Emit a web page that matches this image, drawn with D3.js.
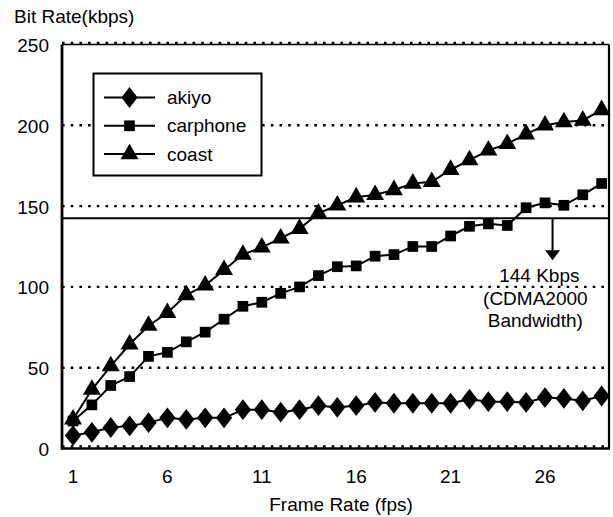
<!DOCTYPE html>
<html>
<head>
<meta charset="utf-8">
<script src="https://cdn.jsdelivr.net/npm/d3@7"></script>
<style>
  body { margin: 0; background: #fff; }
  text { font-family: "Liberation Sans", Arial, sans-serif; fill: #000; }
</style>
</head>
<body>
<div id="chart"></div>
<script>
// frame rates 1..29
var frameRates = d3.range(1, 30);
var xTicks = [1, 6, 11, 16, 21, 26];
var yTicks = [0, 50, 100, 150, 200, 250];

var akiyo = [8, 10, 13, 14, 16, 19, 18, 19, 19, 24, 24, 22.5, 24, 26.5, 25.5, 26.5,
             28.5, 28, 28, 28, 28, 30.5, 29, 29, 28.5, 31.5, 31, 29.5, 32.5];
var carphone = [17, 27, 39, 44.5, 57, 59.5, 66, 72, 80, 88, 90.5, 96, 100, 107, 112.5, 113,
                119, 120, 125, 125, 131.5, 137.5, 139, 138, 149, 152, 150.5, 157, 164];
var coast = [18, 36.5, 51, 64.5, 76, 84, 95, 101, 110.5, 120, 124.5, 130, 136, 145.5, 150.5,
             155.5, 157, 160, 164, 165, 172.5, 178.5, 184.5, 188.5, 194.5, 200, 202, 203, 209.5];

var seriesNames = ['akiyo', 'carphone', 'coast'];
var seriesSymbols = [d3.symbolDiamond, d3.symbolSquare, d3.symbolTriangle];
var seriesData = [akiyo, carphone, coast];

var bandwidthLine = 142.5;   // where the solid line sits in the picture
var bandwidthLabel = ['144 Kbps', '(CDMA2000', 'Bandwidth)'];

var width = 613, height = 517;
var margin = {top: 44.5, right: 4, bottom: 68.5, left: 62};

var x = d3.scaleLinear()
    .domain([1, 26])
    .range([73, 545]);

var y = d3.scaleLinear()
    .domain([0, 250])
    .range([height - margin.bottom, margin.top]);

var svg = d3.select('#chart').append('svg')
    .attr('width', width)
    .attr('height', height);

var plotRight = width - margin.right;

// dotted grid
svg.append('g').selectAll('line')
    .data(yTicks).enter().append('line')
    .attr('x1', margin.left).attr('x2', plotRight)
    .attr('y1', function(d) { return y(d) + (d === 0 ? -2 : (d === 250 ? -1.5 : 0)); })
    .attr('y2', function(d) { return y(d) + (d === 0 ? -2 : (d === 250 ? -1.5 : 0)); })
    .attr('stroke', '#000')
    .attr('stroke-width', 2.4)
    .attr('stroke-dasharray', '2.6,6.1');

// frame
svg.append('line')
    .attr('x1', margin.left).attr('x2', plotRight)
    .attr('y1', y(250)).attr('y2', y(250))
    .attr('stroke', '#000').attr('stroke-width', 1.5);
svg.append('line')
    .attr('x1', plotRight).attr('x2', plotRight)
    .attr('y1', y(250)).attr('y2', y(0))
    .attr('stroke', '#000').attr('stroke-width', 2.2);
svg.append('line')
    .attr('x1', margin.left).attr('x2', margin.left)
    .attr('y1', y(250)).attr('y2', y(0) + 1)
    .attr('stroke', '#000').attr('stroke-width', 2.8);
svg.append('line')
    .attr('x1', margin.left - 1).attr('x2', plotRight + 1)
    .attr('y1', y(0)).attr('y2', y(0))
    .attr('stroke', '#000').attr('stroke-width', 2.5);

// y tick labels
svg.append('g').selectAll('text')
    .data(yTicks).enter().append('text')
    .attr('x', 49)
    .attr('y', function(d) { return y(d) + 7.5; })
    .attr('text-anchor', 'end')
    .attr('font-size', 19)
    .text(function(d) { return d; });

// x tick labels
svg.append('g').selectAll('text')
    .data(xTicks).enter().append('text')
    .attr('x', function(d) { return x(d); })
    .attr('y', 483)
    .attr('text-anchor', 'middle')
    .attr('font-size', 19)
    .text(function(d) { return d; });

svg.append('text')
    .attr('x', 14).attr('y', 23)
    .attr('font-size', 19)
    .text('Bit Rate(kbps)');

svg.append('text')
    .attr('x', 341).attr('y', 511)
    .attr('text-anchor', 'middle')
    .attr('font-size', 19)
    .text('Frame Rate (fps)');

// bandwidth line + arrow
svg.append('line')
    .attr('x1', margin.left).attr('x2', plotRight)
    .attr('y1', y(bandwidthLine)).attr('y2', y(bandwidthLine))
    .attr('stroke', '#000').attr('stroke-width', 2);

var arrowX = x(26.4);
var arrowTip = y(bandwidthLine) + 42;
svg.append('line')
    .attr('x1', arrowX).attr('x2', arrowX)
    .attr('y1', y(bandwidthLine)).attr('y2', arrowTip - 8)
    .attr('stroke', '#000').attr('stroke-width', 2);
svg.append('path')
    .attr('d', 'M' + (arrowX - 7.5) + ',' + (arrowTip - 10) + 'L' + (arrowX + 7.5) + ',' + (arrowTip - 10) +
               'L' + arrowX + ',' + arrowTip + 'Z')
    .attr('fill', '#000');

svg.append('g').selectAll('text')
    .data(bandwidthLabel).enter().append('text')
    .attr('x', function(d, i) { return x(25.7) - (i ? 4 : 0); })
    .attr('y', function(d, i) { return arrowTip + 22 + i * 22.5; })
    .attr('text-anchor', 'middle')
    .attr('font-size', 19)
    .text(function(d) { return d; });

// series
var line = d3.line()
    .x(function(d, i) { return x(frameRates[i]); })
    .y(function(d) { return y(d); });

var symbolSizes = [125, 115, 140];

seriesData.forEach(function(values, s) {
    svg.append('path')
        .datum(values)
        .attr('d', line)
        .attr('fill', 'none')
        .attr('stroke', '#000')
        .attr('stroke-width', 2);

    svg.append('g').selectAll('path')
        .data(values).enter().append('path')
        .attr('transform', function(d, i) {
            return 'translate(' + x(frameRates[i]) + ',' + y(d) + ')' + (s === 0 ? ' scale(1.35,1)' : '');
        })
        .attr('d', d3.symbol().type(seriesSymbols[s]).size(symbolSizes[s]))
        .attr('fill', '#000');
});

// legend
var legend = svg.append('g');
legend.append('rect')
    .attr('x', 93.5).attr('y', 73.5)
    .attr('width', 168).attr('height', 102)
    .attr('fill', '#fff')
    .attr('stroke', '#000').attr('stroke-width', 2);

var legendRows = legend.selectAll('g.row')
    .data(seriesNames).enter().append('g')
    .attr('class', 'row')
    .attr('transform', function(d, i) { return 'translate(0,' + (97.5 + i * 28.3) + ')'; });

legendRows.append('line')
    .attr('x1', 104).attr('x2', 155)
    .attr('stroke', '#000').attr('stroke-width', 2);
legendRows.append('path')
    .attr('transform', function(d, i) { return 'translate(129.5,0)' + (i === 0 ? ' scale(1.35,1)' : ''); })
    .attr('d', function(d, i) { return d3.symbol().type(seriesSymbols[i]).size(symbolSizes[i])(); })
    .attr('fill', '#000');
legendRows.append('text')
    .attr('x', 167).attr('y', 6.5)
    .attr('font-size', 19)
    .text(function(d) { return d; });
</script>
</body>
</html>
